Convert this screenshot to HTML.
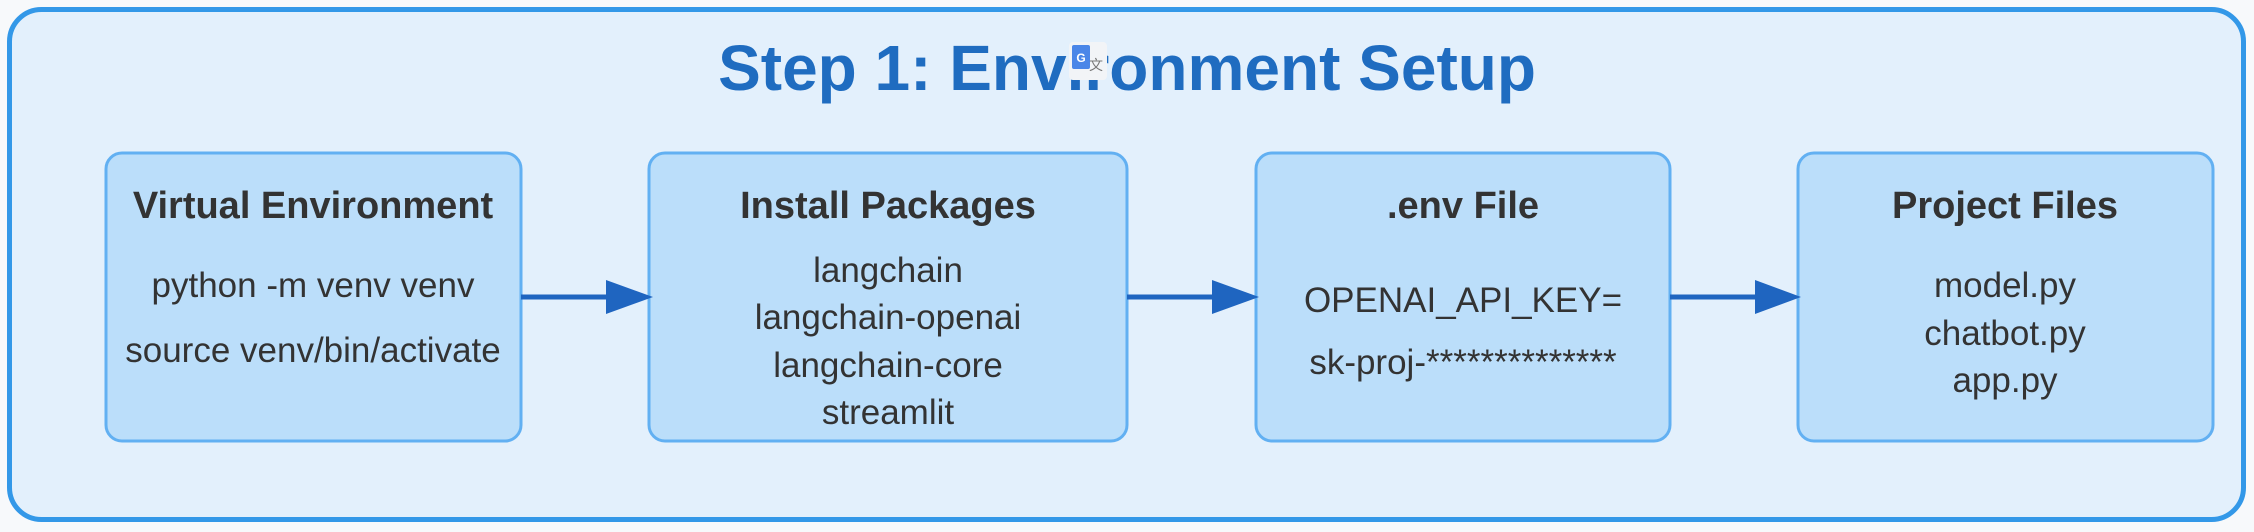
<!DOCTYPE html>
<html><head><meta charset="utf-8"><style>
html,body{margin:0;padding:0;background:#f7f9fb;}
svg{display:block;}
text{font-family:"Liberation Sans",Arial,sans-serif;}
</style></head><body>
<svg width="2254" height="532" viewBox="0 0 2254 532" xmlns="http://www.w3.org/2000/svg">
<rect x="9.5" y="9.5" width="2234" height="510" rx="32" fill="#e3f0fc" stroke="#3398e8" stroke-width="5"/>
<text x="1127" y="90" text-anchor="middle" font-size="64" font-weight="bold" fill="#1f6cc0">Step 1: Environment Setup</text>
<g>
<rect x="1069" y="42" width="38" height="38" rx="4" fill="#f2f4f7"/>
<rect x="1072" y="45" width="18" height="24" rx="2" fill="#4a86e8"/>
<text x="1081" y="62" text-anchor="middle" font-size="12" font-weight="bold" fill="#fff">G</text>
<text x="1096" y="70" text-anchor="middle" font-size="14" fill="#777">文</text>
</g>
<g stroke="#62b0f2" stroke-width="3" fill="#bbdefa">
<rect x="106" y="153" width="415" height="288" rx="16"/>
<rect x="649" y="153" width="478" height="288" rx="16"/>
<rect x="1256" y="153" width="414" height="288" rx="16"/>
<rect x="1798" y="153" width="415" height="288" rx="16"/>
</g>
<g fill="#1f65c0" stroke="#1f65c0">
<line x1="521" y1="297" x2="610" y2="297" stroke-width="5"/>
<polygon points="606,280 653,297 606,314" stroke="none"/>
<line x1="1127" y1="297" x2="1216" y2="297" stroke-width="5"/>
<polygon points="1212,280 1259,297 1212,314" stroke="none"/>
<line x1="1670" y1="297" x2="1759" y2="297" stroke-width="5"/>
<polygon points="1755,280 1801,297 1755,314" stroke="none"/>
</g>
<g fill="#333" text-anchor="middle">
<text x="313" y="218" font-size="38" font-weight="bold">Virtual Environment</text>
<text x="313" y="297" font-size="35">python -m venv venv</text>
<text x="313" y="362" font-size="35">source venv/bin/activate</text>
<text x="888" y="218" font-size="38" font-weight="bold">Install Packages</text>
<text x="888" y="282" font-size="35">langchain</text>
<text x="888" y="329" font-size="35">langchain-openai</text>
<text x="888" y="377" font-size="35">langchain-core</text>
<text x="888" y="424" font-size="35">streamlit</text>
<text x="1463" y="218" font-size="38" font-weight="bold">.env File</text>
<text x="1463" y="312" font-size="35">OPENAI_API_KEY=</text>
<text x="1463" y="374" font-size="35">sk-proj-**************</text>
<text x="2005" y="218" font-size="38" font-weight="bold">Project Files</text>
<text x="2005" y="297" font-size="35">model.py</text>
<text x="2005" y="345" font-size="35">chatbot.py</text>
<text x="2005" y="392" font-size="35">app.py</text>
</g>
</svg>
</body></html>
